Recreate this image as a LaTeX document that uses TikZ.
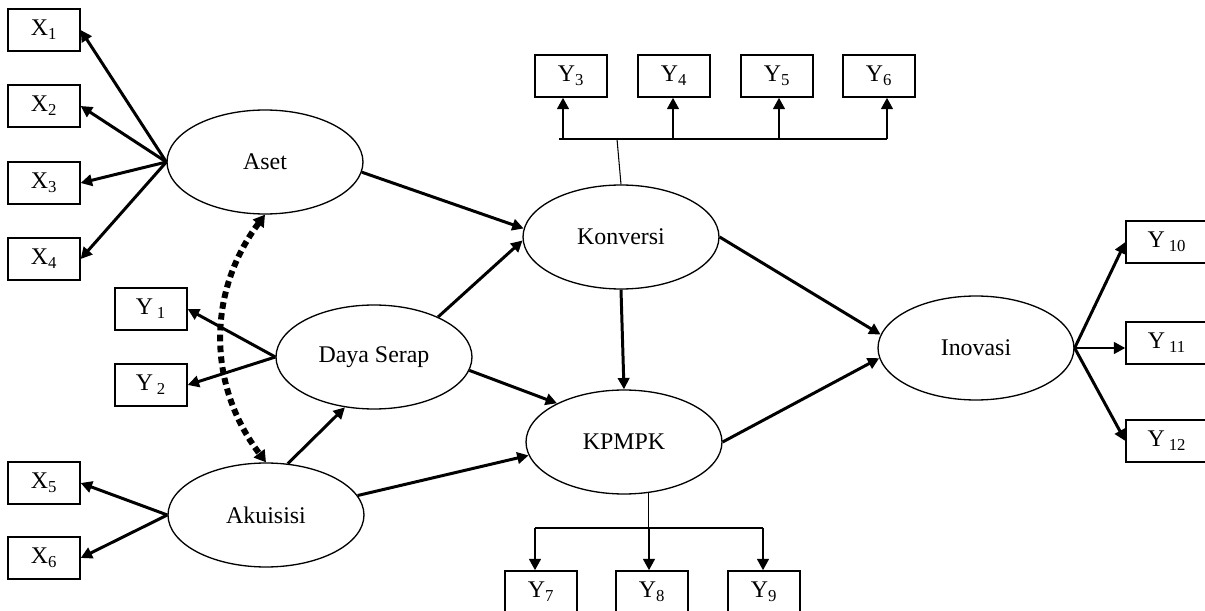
\documentclass[tikz,border=0pt]{standalone}
\usepackage{fontspec}
\setmainfont{Liberation Serif}
\usetikzlibrary{shapes.geometric,arrows.meta}

\begin{document}
\begin{tikzpicture}[x=0.02cm, y=-0.02cm,
  every node/.style={font=\fontsize{13.6}{16}\selectfont},
  latent/.style={ellipse, draw, line width=0.75pt, minimum width=3.92cm, minimum height=2.08cm, inner sep=0pt},
  indicator/.style={rectangle, draw, line width=0.75pt, minimum width=1.44cm, minimum height=0.84cm, inner sep=0pt},
  effect/.style={-{Triangle[length=6.5pt,width=6.5pt]}, line width=1.7pt},
  branch/.style={line width=0.6pt}]

\useasboundingbox (0,0) rectangle (1205,611);

\node [latent] (aset) at (265,162) {Aset};
\node [latent] (dayaserap) at (374,357) {Daya Serap};
\node [latent] (akuisisi) at (266,515) {Akuisisi};
\node [latent] (konversi) at (621,237) {Konversi};
\node [latent] (kpmpk) at (624,442) {KPMPK};
\node [latent] (inovasi) at (976,348) {Inovasi};

\node [indicator] (x1) at (44,30) {X\textsubscript{1}};
\node [indicator] (x2) at (44,106) {X\textsubscript{2}};
\node [indicator] (x3) at (44,183) {X\textsubscript{3}};
\node [indicator] (x4) at (44,259) {X\textsubscript{4}};
\node [indicator] (x5) at (44,483) {X\textsubscript{5}};
\node [indicator] (x6) at (44,558) {X\textsubscript{6}};
\node [indicator] (y1) at (151,309) {Y\,\textsubscript{1}};
\node [indicator] (y2) at (151,385) {Y\,\textsubscript{2}};
\node [indicator] (y3) at (571,76) {Y\textsubscript{3}};
\node [indicator] (y4) at (674,76) {Y\textsubscript{4}};
\node [indicator] (y5) at (777,76) {Y\textsubscript{5}};
\node [indicator] (y6) at (879,76) {Y\textsubscript{6}};
\node [indicator] (y7) at (541,592) {Y\textsubscript{7}};
\node [indicator] (y8) at (652,592) {Y\textsubscript{8}};
\node [indicator] (y9) at (764,592) {Y\textsubscript{9}};
\node [indicator, minimum width=1.64cm] (y10) at (1167,242) {Y\,\textsubscript{10}};
\node [indicator, minimum width=1.64cm] (y11) at (1167,343) {Y\,\textsubscript{11}};
\node [indicator, minimum width=1.64cm] (y12) at (1167,441) {Y\,\textsubscript{12}};

\foreach \n in {x1,x2,x3,x4}
  \draw [effect] (aset.west) -- (\n.east);

\draw [effect] (dayaserap.west) -- (y1.east);
\draw [effect] (dayaserap.west) -- (y2.east);

\draw [effect] (akuisisi.west) -- (x5.east);
\draw [effect] (akuisisi.west) -- (x6.east);

\draw [line width=3.4pt, dash pattern=on 3.8pt off 2.4pt, {Triangle[length=6.5pt,width=7.5pt]}-{Triangle[length=6.5pt,width=7.5pt]}]
(aset.south) to [bend right=37] (akuisisi.north);

\draw [effect] (aset.-6) -- (konversi.175);
\draw [effect] (dayaserap.32) -- (konversi.182);
\draw [effect] (dayaserap.-8) -- (kpmpk.150);
\draw [effect] (akuisisi.67) -- (dayaserap.240);
\draw [effect] (akuisisi.12) -- (kpmpk.188);
\draw [effect] (konversi.south) -- (kpmpk.north);
\draw [effect] (konversi.east) -- (inovasi.172);
\draw [effect] (kpmpk.east) -- (inovasi.186);

\draw [effect] (inovasi.east) -- (y10.west);
\draw [effect] (inovasi.east) -- (inovasi.east -| y11.west);
\draw [effect] (inovasi.east) -- (y12.west);

\foreach \n/\x in {3/563,4/673,5/779,6/887} {
  \coordinate (t\n) at (\x,139);
  \draw [effect] (t\n) -- (t\n |- y\n.south);
}
\draw [branch] ([xshift=-0.08cm]t3) -- (t6);
\draw [branch] (konversi.north) -- ([xshift=-0.08cm]konversi.north |- t3);

\foreach \n/\x in {7/535,8/649,9/763} {
  \coordinate (b\n) at (\x,528);
  \draw [effect] (b\n) -- (b\n |- y\n.north);
}
\draw [branch] (b7) -- (b9);
\draw [branch] (kpmpk.-64) -- (kpmpk.-64 |- b8);
\end{tikzpicture}
\end{document}
